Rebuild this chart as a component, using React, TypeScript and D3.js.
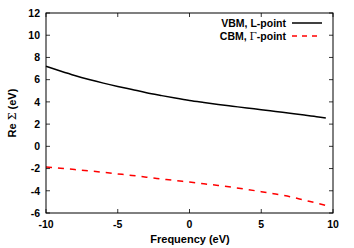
import * as d3 from 'd3';
import { useEffect, useRef } from 'react';

const freq = [-10, -9, -8, -7, -6, -5, -4, -3, -2, -1, 0, 1, 2, 3, 4, 5, 6, 7, 8, 9, 9.5];
const vbm = [7.2, 6.78, 6.38, 6.02, 5.69, 5.39, 5.11, 4.83, 4.58, 4.34, 4.12, 3.94, 3.77, 3.61, 3.45, 3.3, 3.14, 2.98, 2.82, 2.65, 2.55];
const cbm = [-1.86, -1.97, -2.09, -2.21, -2.34, -2.48, -2.62, -2.78, -2.93, -3.08, -3.22, -3.37, -3.52, -3.69, -3.88, -4.08, -4.3, -4.53, -4.84, -5.15, -5.32];
const xTicks = [-10, -5, 0, 5, 10];
const yTicks = [-6, -4, -2, 0, 2, 4, 6, 8, 10, 12];
// [before greek, greek letter, after]
const seriesNames = [['VBM, L-point', '', ''], ['CBM, ', '\u0393', '-point']];

const W = 354;
const H = 248;
const FONT = '"Liberation Sans", Arial, sans-serif';
const GREEK = '"DejaVu Serif", "Liberation Serif", serif';

const App = () => {
  const ref = useRef<SVGSVGElement | null>(null);

  useEffect(() => {
    if (!ref.current) return;
    const svg = d3.select(ref.current);
    svg.selectAll('*').remove();

    const left = 46, right = 333, top = 13, bottom = 213;
    const x = d3.scaleLinear().domain([-10, 10]).range([left, right]);
    const y = d3.scaleLinear().domain([-6, 12]).range([bottom, top]);

    const g = svg.append('g');

    // ticks (mirrored, inward)
    const tk = 4;
    xTicks.forEach(t => {
      g.append('line').attr('x1', x(t)).attr('x2', x(t)).attr('y1', bottom).attr('y2', bottom - tk)
        .attr('stroke', '#000').attr('stroke-width', 0.8);
      g.append('line').attr('x1', x(t)).attr('x2', x(t)).attr('y1', top).attr('y2', top + tk)
        .attr('stroke', '#000').attr('stroke-width', 0.8);
      g.append('text').attr('x', x(t)).attr('y', 228).attr('text-anchor', 'middle')
        .style('font-family', FONT).style('font-size', '10.5px').style('font-weight', 'bold')
        .text(t);
    });
    yTicks.forEach(t => {
      g.append('line').attr('x1', left).attr('x2', left + tk).attr('y1', y(t)).attr('y2', y(t))
        .attr('stroke', '#000').attr('stroke-width', 0.8);
      g.append('line').attr('x1', right).attr('x2', right - tk).attr('y1', y(t)).attr('y2', y(t))
        .attr('stroke', '#000').attr('stroke-width', 0.8);
      g.append('text').attr('x', 40).attr('y', y(t)).attr('dy', '0.36em').attr('text-anchor', 'end')
        .style('font-family', FONT).style('font-size', '10.5px').style('font-weight', 'bold')
        .text(t);
    });

    const line = d3.line<number>()
      .x((_, i) => x(freq[i]))
      .curve(d3.curveMonotoneX);

    g.append('path')
      .attr('d', line.y(d => y(d))(vbm))
      .attr('fill', 'none').attr('stroke', '#000').attr('stroke-width', 1.5);
    g.append('path')
      .attr('d', line.y(d => y(d))(cbm))
      .attr('fill', 'none').attr('stroke', '#ff0000').attr('stroke-width', 1.5)
      .attr('stroke-dasharray', '6,6');

    // border
    g.append('rect').attr('x', left).attr('y', top).attr('width', right - left).attr('height', bottom - top)
      .attr('fill', 'none').attr('stroke', '#000').attr('stroke-width', 1);

    // legend
    const legY = [23, 36];
    const styles = [{ c: '#000', d: null }, { c: '#ff0000', d: '5,5' }];
    seriesNames.forEach((parts, i) => {
      const t = g.append('text').attr('x', 286).attr('y', legY[i]).attr('dy', '0.36em').attr('text-anchor', 'end')
        .style('font-family', FONT).style('font-size', '10.5px').style('font-weight', 'bold');
      t.append('tspan').text(parts[0]);
      if (parts[1]) {
        t.append('tspan').style('font-family', GREEK).style('font-weight', 'normal').text(parts[1]);
        t.append('tspan').text(parts[2]);
      }
      g.append('line').attr('x1', 292).attr('x2', 322).attr('y1', legY[i]).attr('y2', legY[i])
        .attr('stroke', styles[i].c).attr('stroke-width', 1.5)
        .attr('stroke-dasharray', styles[i].d);
    });

    // axis titles
    g.append('text').attr('x', 190).attr('y', 243).attr('text-anchor', 'middle')
      .style('font-family', FONT).style('font-size', '11px').style('font-weight', 'bold')
      .text('Frequency (eV)');
    const yl = g.append('text').attr('transform', 'translate(16,113) rotate(-90)').attr('text-anchor', 'middle')
      .style('font-family', FONT).style('font-size', '11px').style('font-weight', 'bold');
    yl.append('tspan').text('Re ');
    yl.append('tspan').style('font-family', GREEK).style('font-weight', 'normal').text('\u03a3');
    yl.append('tspan').text(' (eV)');
  }, []);

  return (
    <div style={{ position: 'absolute', left: 0, top: 0 }}>
      <svg ref={ref} width={W} height={H} style={{ display: 'block', background: '#fff' }} />
    </div>
  );
};

export default App;
